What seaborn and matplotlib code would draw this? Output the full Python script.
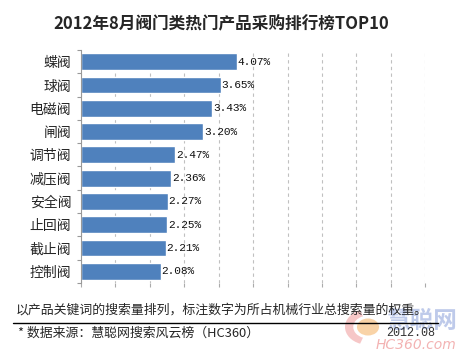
import numpy as np
import pandas as pd
import seaborn as sns
import matplotlib.pyplot as plt
from matplotlib.patches import Circle, Wedge
from matplotlib.lines import Line2D

# data
products = ['蝶阀', '球阀', '电磁阀', '闸阀', '调节阀', '减压阀', '安全阀', '止回阀', '截止阀', '控制阀']
shares = [4.07, 3.65, 3.43, 3.20, 2.47, 2.36, 2.27, 2.25, 2.21, 2.08]
share_labels = ['4.07%', '3.65%', '3.43%', '3.20%', '2.47%', '2.36%', '2.27%', '2.25%', '2.21%', '2.08%']

title = '2012年8月阀门类热门产品采购排行榜TOP10'
note = '以产品关键词的搜索量排列，标注数字为所占机械行业总搜索量的权重。'
source = '* 数据来源：慧聪网搜索风云榜（HC360）'
date_txt = '2012.08'

sns.set_style('white')
plt.rcParams['font.family'] = ['Noto Sans CJK SC', 'DejaVu Sans']

df = pd.DataFrame({'product': products, 'share': shares})

fig = plt.figure(figsize=(4.6, 3.55), dpi=100)
ax = fig.add_axes([0.176, 0.203, 0.7486, 0.656])

sns.barplot(data=df, y='product', x='share', orient='h', color='#4F81BD',
            saturation=1, width=0.72, ax=ax)

ax.set_xlim(0, 9)
ax.set_ylim(9.5, -0.5)
ax.set_xticks(np.arange(0, 9.01, 0.9))
ax.set_xticklabels([])
ax.xaxis.grid(True, linestyle=(0, (3, 3)), color='#C0C0C0', linewidth=0.8)
ax.set_axisbelow(True)
ax.set_xlabel('')
ax.set_ylabel('')

for s in ['top', 'right', 'bottom']:
    ax.spines[s].set_visible(False)
ax.spines['left'].set_color('#999999')
ax.spines['left'].set_linewidth(0.8)

ax.tick_params(axis='x', length=3, color='#AAAAAA', bottom=True, width=0.8)
ax.tick_params(axis='y', which='major', length=0, pad=7, labelsize=10)
ax.set_yticks(np.arange(-0.5, 10, 1), minor=True)
ax.tick_params(axis='y', which='minor', length=3, color='#999999', left=True, width=0.8)

for i, (v, lab) in enumerate(zip(shares, share_labels)):
    ax.text(v + 0.02, i, lab, va='center', ha='left', fontsize=8,
            family='Liberation Mono', color='#111111')

fig.text(0.4815, 0.93, title, ha='center', va='center', fontsize=12, fontweight='bold')

# watermark logo
fig.patches.append(Circle((368 / 460, 1 - 327 / 355), 0.024, transform=fig.transFigure,
                          facecolor='#F5B060', edgecolor='none', alpha=0.55, zorder=0))
fig.patches.append(Wedge((368 / 460, 1 - 327 / 355), 0.05, 110, 250, width=0.018,
                         transform=fig.transFigure, facecolor='#E86060', edgecolor='none',
                         alpha=0.35, zorder=0))
fig.text(422 / 460, 1 - 321 / 355, '慧聪网', ha='center', va='center', fontsize=17,
         fontweight='bold', color='#A9B9E4', alpha=0.75, zorder=0)
fig.text(416 / 460, 1 - 345 / 355, 'HC360.com', ha='center', va='center', fontsize=10,
         style='italic', color='#F0A0A0', alpha=0.8, zorder=0, family='DejaVu Sans')

fig.text(16 / 460, 1 - 310 / 355, note, ha='left', va='center', fontsize=9.3)
fig.lines.append(Line2D([13 / 460, 438 / 460], [1 - 322.5 / 355] * 2, transform=fig.transFigure,
                        color='black', linewidth=1))
fig.text(18 / 460, 1 - 333 / 355, source, ha='left', va='center', fontsize=9.3)
fig.text(411 / 460, 1 - 333 / 355, date_txt, ha='center', va='center', fontsize=8.5,
         family='Liberation Mono', color='#333333')

fig.savefig('out.png', dpi=100)
